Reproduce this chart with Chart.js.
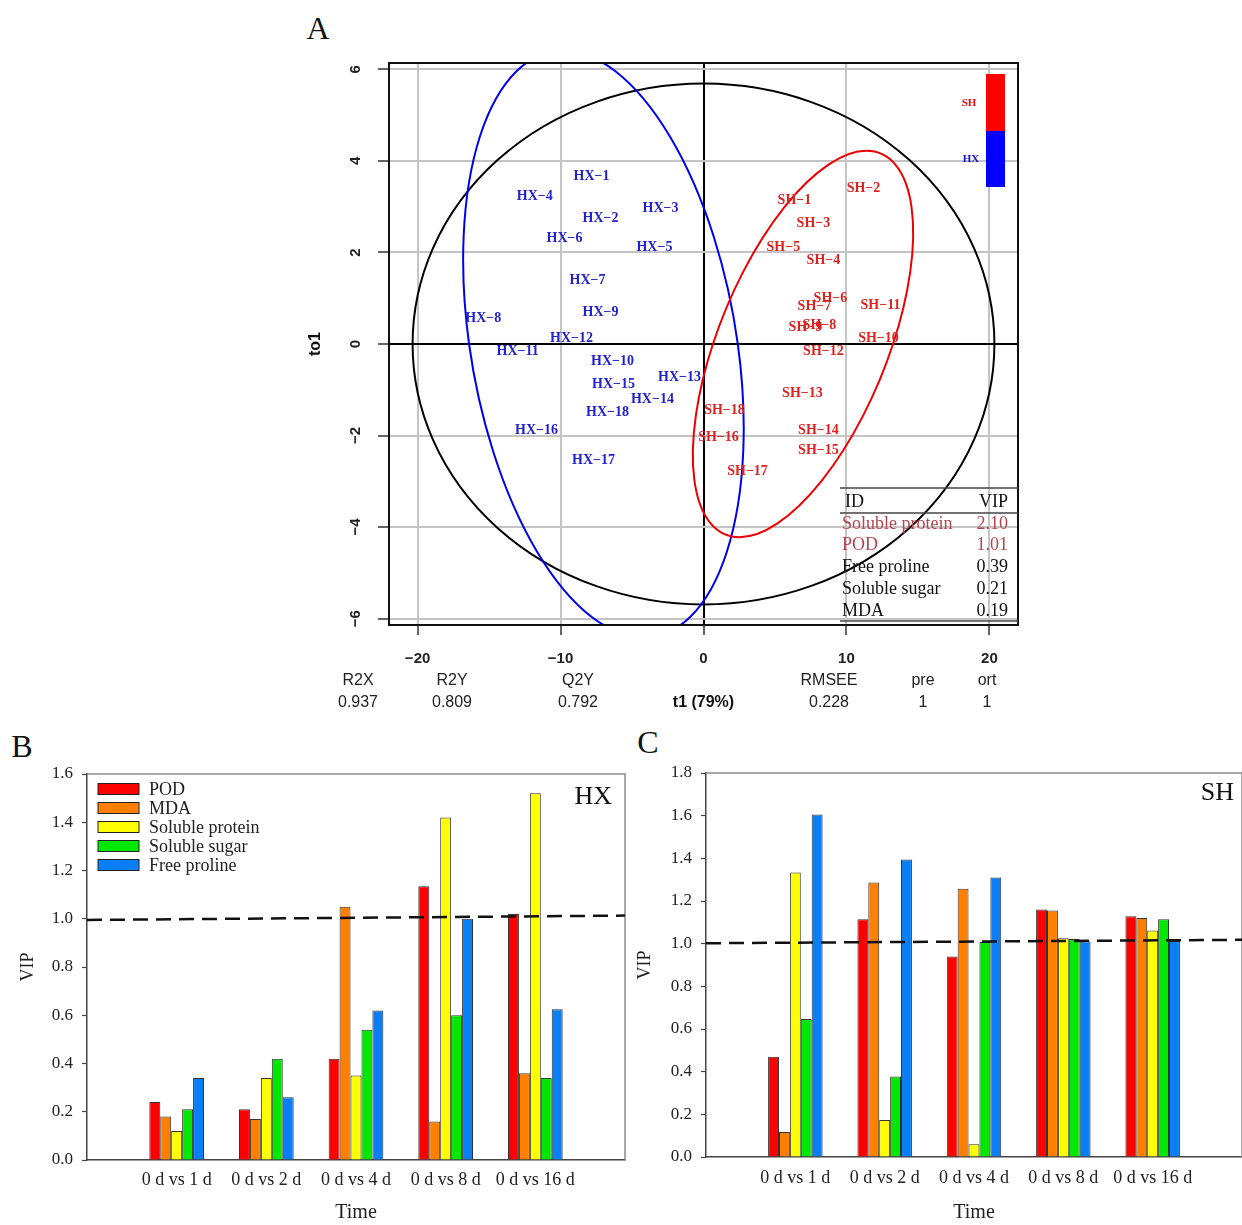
<!DOCTYPE html>
<html>
<head>
<meta charset="utf-8">
<script src="https://cdn.jsdelivr.net/npm/chart.js@4.4.1/dist/chart.umd.min.js"></script>
<style>
  body { margin: 0; background: #fff; width: 1242px; height: 1225px; position: relative; overflow: hidden; }
  canvas { position: absolute; }
  .tag { position: absolute; font-family: "Liberation Serif", serif; font-size: 32px; color: #111; transform: translate(-50%, -50%); }
  .st { position: absolute; font-family: "Liberation Sans", sans-serif; font-size: 16px; color: #222; transform: translate(-50%, -50%); white-space: nowrap; }
</style>
</head>
<body>
<div class="tag" style="left:318px;top:28px">A</div>
<div class="tag" style="left:22px;top:746px">B</div>
<div class="tag" style="left:648px;top:742px">C</div>
<canvas id="scoreA" width="750" height="680" style="left:290px;top:40px"></canvas>
<canvas id="vipHX" width="630" height="485" style="left:0px;top:740px"></canvas>
<canvas id="vipSH" width="622" height="485" style="left:620px;top:740px"></canvas>
<div id="stats"></div>

<script>
// ---------- panel A : OPLS-DA scores ----------
const hxX = [-7.83, -7.20, -3.00, -11.80, -3.43, -9.72, -8.11, -15.40, -7.20, -6.36, -13.00, -9.23, -1.68, -3.57, -6.29, -11.68, -7.69, -6.71];
const hxY = [3.66, 2.75, 2.97, 3.23, 2.12, 2.31, 1.40, 0.55, 0.70, -0.39, -0.17, 0.13, -0.72, -1.20, -0.89, -1.88, -2.55, -1.50];
const shX = [6.36, 11.19, 7.69, 8.39, 5.59, 8.88, 7.76, 8.11, 7.13, 12.24, 12.38, 8.39, 6.92, 8.04, 8.04, 1.05, 3.08, 1.47];
const shY = [3.14, 3.40, 2.64, 1.83, 2.12, 1.00, 0.83, 0.41, 0.37, 0.13, 0.85, -0.17, -1.09, -1.88, -2.33, -2.05, -2.79, -1.44];

// ellipses: [centre x, centre y, half width, shear, half height]
const t2Ellipse = [0, 0, 20.35, 0, 5.69];
const hxEllipse = [-7.0, 0.0, 9.4, -2.82, 6.41];
const shEllipse = [6.96, 0.0, 6.3, 4.44, 4.22];

const xTicksA = [-20, -10, 0, 10, 20];
const yTicksA = [-6, -4, -2, 0, 2, 4, 6];

const vipIds = ['Soluble protein', 'POD', 'Free proline', 'Soluble sugar', 'MDA'];
const vipScores = [2.10, 1.01, 0.39, 0.21, 0.19];

const statNames = ['R2X', 'R2Y', 'Q2Y', 'RMSEE', 'pre', 'ort'];
const statValues = ['0.937', '0.809', '0.792', '0.228', '1', '1'];

// ---------- panels B and C : VIP per time point ----------
const categories = ['0 d vs 1 d', '0 d vs 2 d', '0 d vs 4 d', '0 d vs 8 d', '0 d vs 16 d'];
const variables = ['POD', 'MDA', 'Soluble protein', 'Soluble sugar', 'Free proline'];

const hxPOD = [0.24, 0.21, 0.42, 1.135, 1.02];
const hxMDA = [0.18, 0.17, 1.05, 0.16, 0.36];
const hxProtein = [0.12, 0.34, 0.35, 1.42, 1.52];
const hxSugar = [0.21, 0.42, 0.54, 0.60, 0.34];
const hxProline = [0.34, 0.26, 0.62, 1.00, 0.625];

const shPOD = [0.47, 1.115, 0.94, 1.16, 1.128];
const shMDA = [0.117, 1.287, 1.257, 1.156, 1.12];
const shProtein = [1.334, 0.173, 0.06, 1.025, 1.062];
const shSugar = [0.647, 0.377, 1.008, 1.022, 1.114];
const shProline = [1.605, 1.394, 1.31, 1.01, 1.012];

const vipTicksHX = [0, 0.2, 0.4, 0.6, 0.8, 1.0, 1.2, 1.4, 1.6];
const vipTicksSH = [0, 0.2, 0.4, 0.6, 0.8, 1.0, 1.2, 1.4, 1.6, 1.8];

// dashed VIP = 1 reference line, value at left and right edge as drawn
const cutHX = [0.995, 1.013];
const cutSH = [1.002, 1.018];

const barColors = ['#ff0000', '#ff7f00', '#ffff00', '#00e800', '#0a7ff5'];
const SERIF = '"Liberation Serif", "Times New Roman", serif';
const SANS = '"Liberation Sans", Arial, sans-serif';

Chart.defaults.font.family = SERIF;
Chart.defaults.color = '#222';

const minus = v => (v < 0 ? '\u2212' + Math.abs(v) : String(v));

// stats row under panel A
const statX = [358, 452, 578, 829, 923, 987];
const statsDiv = document.getElementById('stats');
statNames.forEach((name, i) => {
  statsDiv.insertAdjacentHTML('beforeend',
    `<div class="st" style="left:${statX[i]}px;top:680px">${name}</div>` +
    `<div class="st" style="left:${statX[i]}px;top:702px">${statValues[i]}</div>`);
});

function drawEllipse(ctx, x, y, e, color) {
  const kx = x.getPixelForValue(1) - x.getPixelForValue(0);
  const ky = y.getPixelForValue(0) - y.getPixelForValue(1);
  ctx.save();
  ctx.beginPath();
  ctx.transform(e[2] * kx, 0, e[3] * kx, -e[4] * ky, x.getPixelForValue(e[0]), y.getPixelForValue(e[1]));
  ctx.arc(0, 0, 1, 0, Math.PI * 2);
  ctx.restore();
  ctx.strokeStyle = color;
  ctx.lineWidth = 2;
  ctx.stroke();
}

const scoreDecor = {
  id: 'scoreDecor',
  beforeDatasetsDraw(chart) {
    const { ctx, chartArea: a, scales: { x, y } } = chart;
    ctx.save();
    ctx.beginPath();
    ctx.rect(a.left, a.top, a.width, a.height);
    ctx.clip();
    drawEllipse(ctx, x, y, t2Ellipse, '#000');
    drawEllipse(ctx, x, y, hxEllipse, '#0000ee');
    drawEllipse(ctx, x, y, shEllipse, '#ee0000');
    ctx.restore();
  },
  afterDatasetsDraw(chart) {
    const { ctx } = chart;
    ctx.save();
    ctx.font = 'bold 14px ' + SERIF;
    ctx.textAlign = 'center';
    ctx.textBaseline = 'middle';
    chart.data.datasets.forEach((ds, i) => {
      ctx.fillStyle = ds.textColor;
      chart.getDatasetMeta(i).data.forEach((pt, j) => {
        ctx.fillText(ds.prefix + '\u2212' + (j + 1), pt.x, pt.y);
      });
    });
    ctx.restore();
  },
  afterDraw(chart) {
    const { ctx, chartArea: a } = chart;
    ctx.save();
    // frame
    ctx.strokeStyle = '#111';
    ctx.lineWidth = 2;
    ctx.strokeRect(a.left, a.top, a.width, a.height);

    // class colour key
    ctx.fillStyle = '#ff0000';
    ctx.fillRect(a.right - 32, a.top + 11, 19, 57);
    ctx.fillStyle = '#0000ff';
    ctx.fillRect(a.right - 32, a.top + 68, 19, 56);
    ctx.font = 'bold 11px ' + SERIF;
    ctx.textAlign = 'center';
    ctx.textBaseline = 'middle';
    ctx.fillStyle = '#dd1111';
    ctx.fillText('SH', a.right - 49, a.top + 40);
    ctx.fillStyle = '#1111cc';
    ctx.fillText('HX', a.right - 47, a.top + 96);

    // VIP table
    const tl = a.right - 178;
    ctx.strokeStyle = '#444';
    ctx.lineWidth = 1.5;
    [137, 112, 4].forEach(d => {
      ctx.beginPath();
      ctx.moveTo(tl, a.bottom - d);
      ctx.lineTo(a.right, a.bottom - d);
      ctx.stroke();
    });
    ctx.font = '18px ' + SERIF;
    ctx.fillStyle = '#111';
    ctx.textAlign = 'left';
    ctx.fillText('ID', tl + 5, a.bottom - 123);
    ctx.textAlign = 'right';
    ctx.fillText('VIP', a.right - 10, a.bottom - 123);
    vipIds.forEach((id, i) => {
      const ry = a.bottom - 101 + i * 21.7;
      ctx.fillStyle = vipScores[i] > 1 ? '#b4454f' : '#111';
      ctx.textAlign = 'left';
      ctx.fillText(id, tl + 2, ry);
      ctx.textAlign = 'right';
      ctx.fillText(vipScores[i].toFixed(2), a.right - 10, ry);
    });
    ctx.restore();
  }
};

const gridA = {
  color: c => (c.tick && c.tick.value === 0 ? '#000' : '#c4c4c4'),
  lineWidth: 2,
  tickColor: '#333',
  tickWidth: 1.5
};

new Chart(document.getElementById('scoreA'), {
  type: 'scatter',
  data: {
    datasets: [
      { label: 'HX', prefix: 'HX', textColor: '#2222cc', data: hxX.map((v, i) => ({ x: v, y: hxY[i] })), pointRadius: 0 },
      { label: 'SH', prefix: 'SH', textColor: '#dd2222', data: shX.map((v, i) => ({ x: v, y: shY[i] })), pointRadius: 0 }
    ]
  },
  options: {
    responsive: false,
    animation: false,
    layout: { padding: { left: 0, top: 23, right: 22, bottom: 4 } },
    plugins: { legend: { display: false }, tooltip: { enabled: false } },
    scales: {
      x: {
        type: 'linear', min: -22, max: 22,
        afterBuildTicks: s => { s.ticks = xTicksA.map(v => ({ value: v })); },
        afterFit: s => { s.height = 91; },
        grid: { ...gridA, tickLength: 10 },
        border: { display: false },
        ticks: { padding: 15, color: '#222', font: { family: SANS, weight: 'bold', size: 15 }, callback: minus },
        title: { display: true, text: 't1 (79%)', color: '#111', font: { family: SANS, weight: 'bold', size: 16 }, padding: { top: 0, bottom: 4 } }
      },
      y: {
        type: 'linear', min: -6.14, max: 6.14,
        afterBuildTicks: s => { s.ticks = yTicksA.map(v => ({ value: v })); },
        afterFit: s => { s.width = 99; },
        grid: { ...gridA, tickLength: 11 },
        border: { display: false },
        ticks: { minRotation: 90, maxRotation: 90, crossAlign: 'center', padding: 14, color: '#222', font: { family: SANS, weight: 'bold', size: 15 }, callback: minus },
        title: { display: true, text: 'to1', color: '#111', font: { family: SANS, weight: 'bold', size: 16 }, padding: { top: 16, bottom: 0 } }
      }
    }
  },
  plugins: [scoreDecor]
});

// ---------- bar panels ----------
const barDecor = {
  id: 'barDecor',
  afterDatasetsDraw(chart, args, opts) {
    const { ctx, chartArea: a, scales: { y } } = chart;
    ctx.save();
    // box (top and right side)
    ctx.strokeStyle = '#8a8a8a';
    ctx.lineWidth = 1.5;
    ctx.beginPath();
    ctx.moveTo(a.left, a.top);
    ctx.lineTo(a.right, a.top);
    ctx.lineTo(a.right, a.bottom);
    ctx.stroke();

    // VIP = 1 cut-off
    ctx.strokeStyle = '#111';
    ctx.lineWidth = 2.5;
    ctx.setLineDash([15, 8]);
    ctx.beginPath();
    ctx.moveTo(a.left, y.getPixelForValue(opts.cut[0]));
    ctx.lineTo(a.right, y.getPixelForValue(opts.cut[1]));
    ctx.stroke();
    ctx.setLineDash([]);

    // cultivar tag
    ctx.font = '26px ' + SERIF;
    ctx.fillStyle = '#111';
    ctx.textAlign = 'right';
    ctx.textBaseline = 'middle';
    ctx.fillText(opts.tag, a.right - opts.tagDx, a.top + opts.tagDy);

    // legend
    if (opts.legend) {
      ctx.font = '18px ' + SERIF;
      ctx.textAlign = 'left';
      chart.data.datasets.forEach((ds, i) => {
        const cy = a.top + 15 + i * 19;
        ctx.fillStyle = ds.backgroundColor;
        ctx.fillRect(a.left + 11, cy - 5.5, 41, 11);
        ctx.strokeStyle = '#222';
        ctx.lineWidth = 1;
        ctx.strokeRect(a.left + 11, cy - 5.5, 41, 11);
        ctx.fillStyle = '#222';
        ctx.fillText(ds.label, a.left + 62, cy + 1);
      });
    }
    ctx.restore();
  }
};

function vipChart(id, series, cfg) {
  return new Chart(document.getElementById(id), {
    type: 'bar',
    data: {
      labels: ['', ...categories, ''],
      datasets: variables.map((name, i) => ({
        label: name,
        data: [null, ...series[i], null],
        backgroundColor: barColors[i],
        borderColor: '#333',
        borderWidth: 1,
        categoryPercentage: 0.61,
        barPercentage: 1.0
      }))
    },
    options: {
      responsive: false,
      animation: false,
      layout: { padding: { left: 0, top: cfg.top, right: cfg.right, bottom: 0 } },
      plugins: {
        legend: { display: false },
        tooltip: { enabled: false },
        barDecor: { cut: cfg.cut, tag: cfg.tag, tagDx: cfg.tagDx, tagDy: cfg.tagDy, legend: cfg.legend }
      },
      scales: {
        x: {
          offset: false,
          afterFit: s => { s.height = cfg.xH; s.paddingLeft = 0; s.paddingRight = 0; },
          grid: { display: false, drawTicks: false },
          border: { color: '#444', width: 1.5 },
          ticks: { autoSkip: false, maxRotation: 0, padding: cfg.xPad, color: '#222', font: { size: 18 } },
          title: { display: true, text: 'Time', color: '#222', font: { size: 20 }, padding: { top: 0, bottom: 0 } }
        },
        y: {
          min: 0, max: cfg.yMax,
          afterBuildTicks: s => { s.ticks = cfg.ticks.map(v => ({ value: v })); },
          afterFit: s => { s.width = cfg.yW; s.paddingLeft = 0; s.paddingRight = 0; },
          grid: { drawOnChartArea: false, tickLength: 5, tickColor: '#444', tickWidth: 1.2 },
          border: { color: '#444', width: 1.5 },
          ticks: { padding: 9, color: '#222', font: { size: 17 }, callback: v => v.toFixed(1) },
          title: { display: true, text: 'VIP', color: '#222', font: { size: 18 }, padding: { top: cfg.vipPad, bottom: 0 } }
        }
      }
    },
    plugins: [barDecor]
  });
}

vipChart('vipHX', [hxPOD, hxMDA, hxProtein, hxSugar, hxProline], {
  top: 34, right: 5, xH: 65, yW: 87, xPad: 9, vipPad: 17, yMax: 1.6, ticks: vipTicksHX,
  cut: cutHX, tag: 'HX', tagDx: 13, tagDy: 23, legend: true
});

vipChart('vipSH', [shPOD, shMDA, shProtein, shSugar, shProline], {
  top: 33, right: 0, xH: 68, yW: 86, xPad: 10, vipPad: 14, yMax: 1.8, ticks: vipTicksSH,
  cut: cutSH, tag: 'SH', tagDx: 8, tagDy: 20, legend: false
});
</script>
</body>
</html>
